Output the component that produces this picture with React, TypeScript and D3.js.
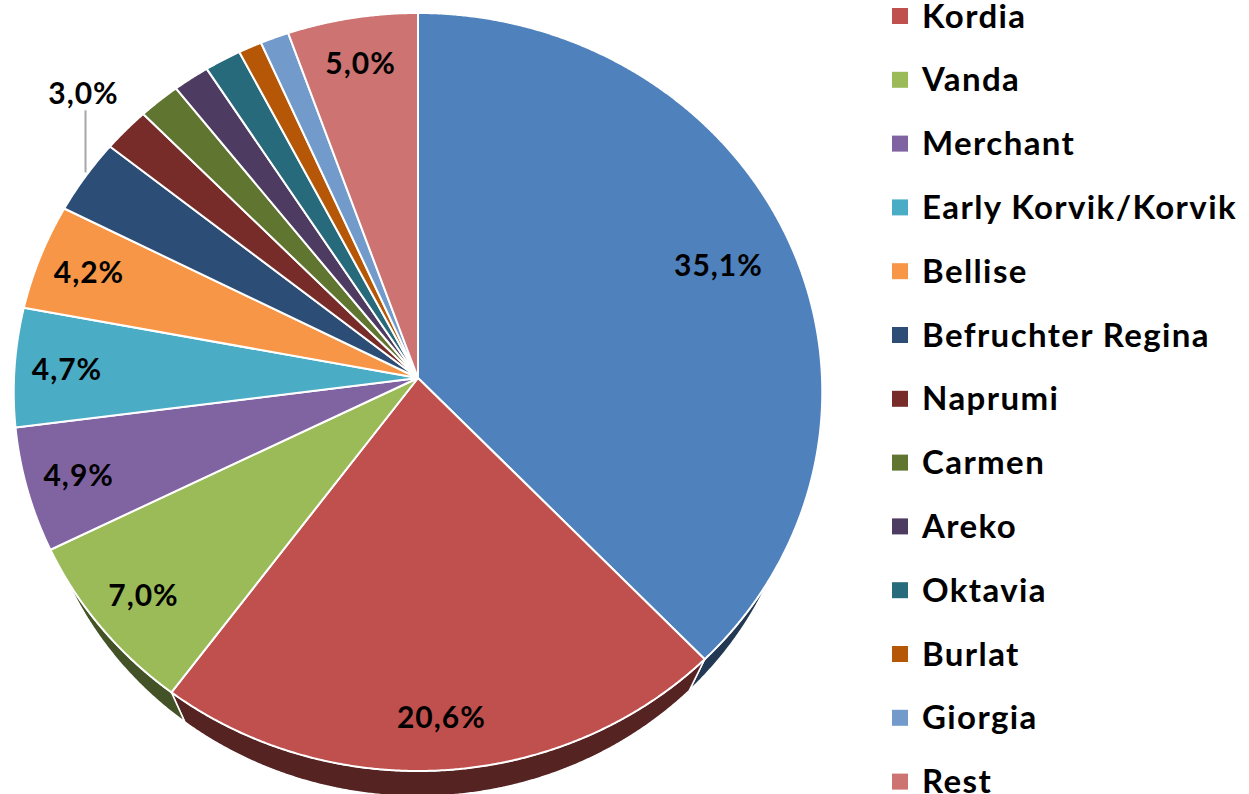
import React from 'react';
import * as d3 from 'd3';

// ---- data ----
const categories = ['', 'Kordia', 'Vanda', 'Merchant', 'Early Korvik/Korvik', 'Bellise', 'Befruchter Regina', 'Naprumi', 'Carmen', 'Areko', 'Oktavia', 'Burlat', 'Giorgia', 'Rest'];
const values = [35.1, 20.6, 7.0, 4.9, 4.7, 4.2, 3.0, 1.8, 1.6, 1.4, 1.4, 0.9, 1.1, 5.0];
const colors = ['#4F81BD', '#C0504D', '#9BBB59', '#8064A2', '#4BACC6', '#F79646', '#2C4D75', '#772C2A', '#5F7530', '#4D3B62', '#276A7C', '#B65708', '#729ACA', '#CD7371'];
const labelThreshold = 3.0;

// ---- layout ----
const W = 1249, H = 794;
const CX = 418, CY = 378, A = 404, B = 378.5, K = 0.0369;
const VPX = 418, VPY = 1240, T = 0.054;
const LEG_X = 892, LEG_TOP = -47.8, LEG_STEP = 63.8;
const FONT = 'Lato, "Open Sans", sans-serif';

function proj(theta: number, r = 1): [number, number] {
  const u = r * Math.sin(theta), v = r * Math.cos(theta);
  const w = 1 + K * v;
  return [CX + (A * u) / w, CY - (B * v) / w];
}
function dropPt(p: [number, number]): [number, number] {
  return [p[0] + T * (VPX - p[0]), p[1] + T * (VPY - p[1])];
}
function arcPts(a0: number, a1: number, r = 1): [number, number][] {
  const n = Math.max(2, Math.ceil((a1 - a0) / (Math.PI / 720)));
  return d3.range(n + 1).map((i) => proj(a0 + ((a1 - a0) * i) / n, r));
}
const fmt = (v: number) => v.toFixed(1).replace('.', ',') + '%';

export default function App() {
  const arcs = d3.pie<number>().sort(null).value((d) => d)(values);
  const line = d3.line();

  const sides = arcs.map((a, i) => {
    const s0 = Math.max(a.startAngle, Math.PI / 2);
    const s1 = Math.min(a.endAngle, (3 * Math.PI) / 2);
    if (s1 <= s0) return null;
    const top = arcPts(s0, s1);
    const bot = top.map(dropPt).reverse();
    const c = d3.color(colors[i])!.darker(2.3).formatHex();
    return <path key={'s' + i} d={line([...top, ...bot])! + 'Z'} fill={c} stroke="#fff" strokeWidth={1.5} strokeLinejoin="round" />;
  });

  const tops = arcs.map((a, i) => (
    <path key={'t' + i} d={line([[CX, CY], ...arcPts(a.startAngle, a.endAngle)])! + 'Z'} fill={colors[i]} stroke="#fff" strokeWidth={2} strokeLinejoin="round" />
  ));

  const labelStyle = { fontFamily: FONT, fontWeight: 700, fontSize: 30, letterSpacing: 1 } as const;
  const labels = arcs.map((a, i) => {
    const v = values[i];
    if (v < labelThreshold) return null;
    const mid = (a.startAngle + a.endAngle) / 2;
    const txt = fmt(v);
    if (v <= 3.0) {
      const rim = proj(mid, 1);
      const x = rim[0];
      return (
        <g key={'l' + i}>
          <line x1={x} x2={x} y1={rim[1] - 4} y2={rim[1] - 66} stroke="#A6A6A6" strokeWidth={2} />
          <text x={x - 2} y={rim[1] - 72} textAnchor="middle" style={labelStyle} fill="#000">{txt}</text>
        </g>
      );
    }
    const r = i === 0 ? 0.81 : 0.87;
    const p = proj(mid, r);
    return (
      <text key={'l' + i} x={p[0]} y={p[1] + 11} textAnchor="middle" style={labelStyle} fill="#000">{txt}</text>
    );
  });

  const legend = categories.map((name, i) => {
    if (!name) return null;
    const y = LEG_TOP + i * LEG_STEP;
    return (
      <g key={'g' + i}>
        <rect x={LEG_X} y={y - 8} width={16} height={16} fill={colors[i]} />
        <text x={LEG_X + 30} y={y + 11.5} style={{ fontFamily: FONT, fontWeight: 700, fontSize: 33, letterSpacing: 1.4 }} fill="#000">{name}</text>
      </g>
    );
  });

  return (
    <svg width={W} height={H} style={{ position: 'absolute', left: 0, top: 0, background: '#fff' }}>
      {sides}
      {tops}
      {labels}
      {legend}
    </svg>
  );
}
